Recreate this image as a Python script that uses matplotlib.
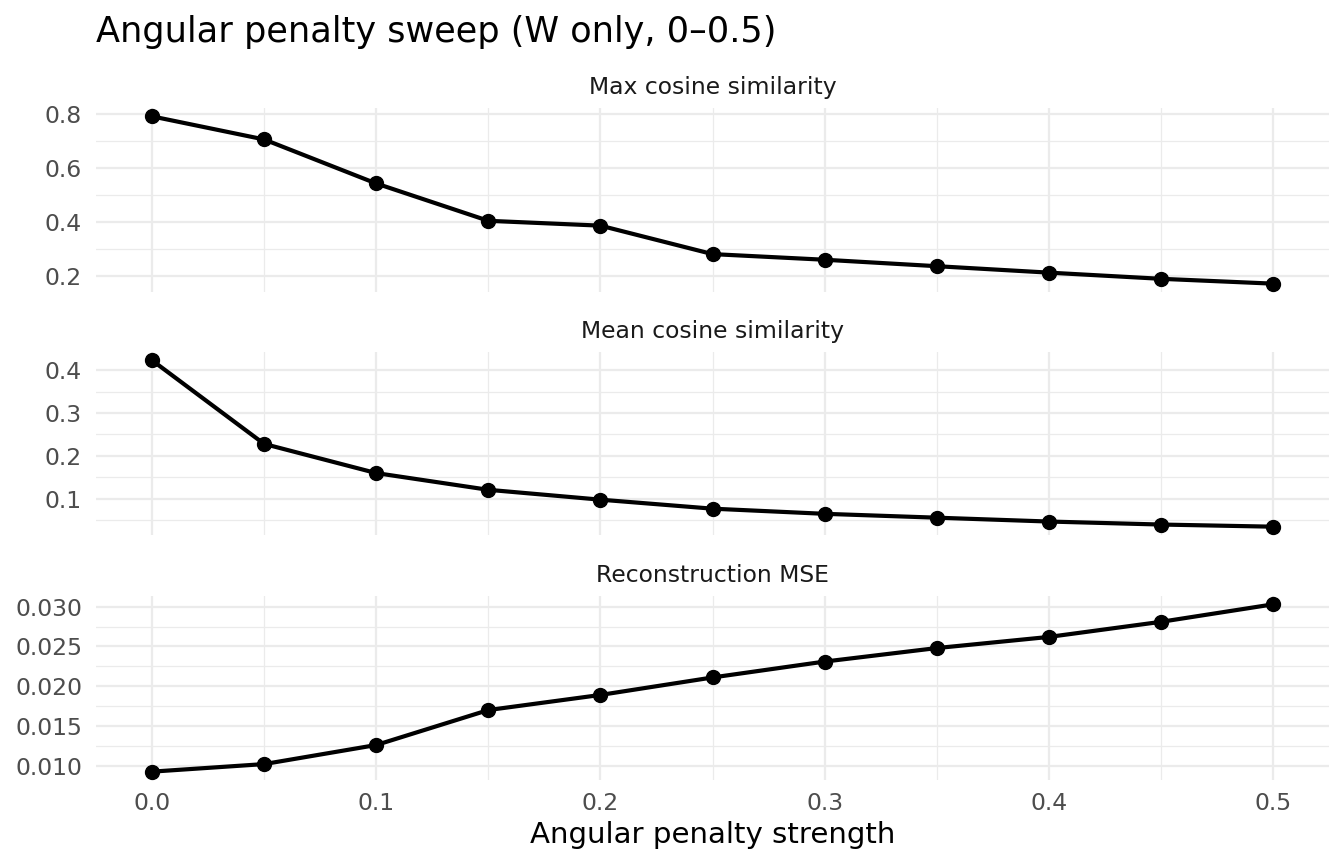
import numpy as np
import matplotlib
matplotlib.use("Agg")
import matplotlib.pyplot as plt

# penalty strengths (x)
strength = [0.0, 0.05, 0.1, 0.15, 0.2, 0.25, 0.3, 0.35, 0.4, 0.45, 0.5]

# metric values
max_cos = [0.793, 0.707, 0.543, 0.404, 0.386, 0.280, 0.259, 0.235, 0.211, 0.188, 0.170]
mean_cos = [0.423, 0.228, 0.160, 0.121, 0.098, 0.077, 0.065, 0.056, 0.047, 0.040, 0.035]
recon_mse = [0.00925, 0.0102, 0.0126, 0.0170, 0.0189, 0.0211, 0.0231, 0.0248, 0.0262, 0.0281, 0.0303]

panel_titles = ["Max cosine similarity", "Mean cosine similarity", "Reconstruction MSE"]
panel_values = [max_cos, mean_cos, recon_mse]

y_major = [[0.2, 0.4, 0.6, 0.8],
           [0.1, 0.2, 0.3, 0.4],
           [0.010, 0.015, 0.020, 0.025, 0.030]]
y_minor = [[0.3, 0.5, 0.7],
           [0.05, 0.15, 0.25, 0.35],
           [0.0125, 0.0175, 0.0225, 0.0275]]
y_labels = [["0.2", "0.4", "0.6", "0.8"],
            ["0.1", "0.2", "0.3", "0.4"],
            ["0.010", "0.015", "0.020", "0.025", "0.030"]]

x_major = [0.0, 0.1, 0.2, 0.3, 0.4, 0.5]
x_labels = ["0.0", "0.1", "0.2", "0.3", "0.4", "0.5"]
x_minor = [0.05, 0.15, 0.25, 0.35, 0.45]

W, H = 1344, 864
fig = plt.figure(figsize=(W / 100, H / 100), dpi=100)

# panel boxes in pixels (top, bottom)
left_px, right_px = 96, 1329
boxes = [(108, 292), (352, 535), (596, 780)]

grid_col = "#EBEBEB"
tick_fs = 16.9
axes = []
for i, (top, bot) in enumerate(boxes):
    ax = fig.add_axes([left_px / W, 1 - bot / H, (right_px - left_px) / W, (bot - top) / H])
    vals = panel_values[i]
    ax.plot(strength, vals, color="black", lw=3.0, zorder=3)
    ax.plot(strength, vals, "o", color="black", ms=10, zorder=4)

    ax.margins(x=0.05, y=0.05)
    ax.set_xticks(x_major)
    ax.set_xticks(x_minor, minor=True)
    ax.set_yticks(y_major[i])
    ax.set_yticklabels(y_labels[i])
    ax.set_yticks(y_minor[i], minor=True)

    ax.grid(True, which="major", color=grid_col, lw=1.6, zorder=0)
    ax.grid(True, which="minor", color=grid_col, lw=0.9, zorder=0)
    for s in ax.spines.values():
        s.set_visible(False)
    ax.tick_params(which="both", length=0)
    ax.tick_params(axis="y", labelsize=tick_fs, labelcolor="#4D4D4D", pad=10)
    ax.tick_params(axis="x", labelsize=tick_fs, labelcolor="#4D4D4D", pad=9)
    if i < 2:
        ax.tick_params(axis="x", labelbottom=False)
    else:
        ax.set_xticklabels(x_labels)
    ax.set_title(panel_titles[i], fontsize=tick_fs, color="#1A1A1A", pad=10)
    axes.append(ax)

axes[-1].set_xlabel("Angular penalty strength", fontsize=21.1, labelpad=4)
fig.text(left_px / W, 1 - 42 / H, "Angular penalty sweep (W only, 0\u20130.5)",
         fontsize=25.3, ha="left", va="baseline")

fig.savefig("out.png", dpi=100, facecolor="white")
